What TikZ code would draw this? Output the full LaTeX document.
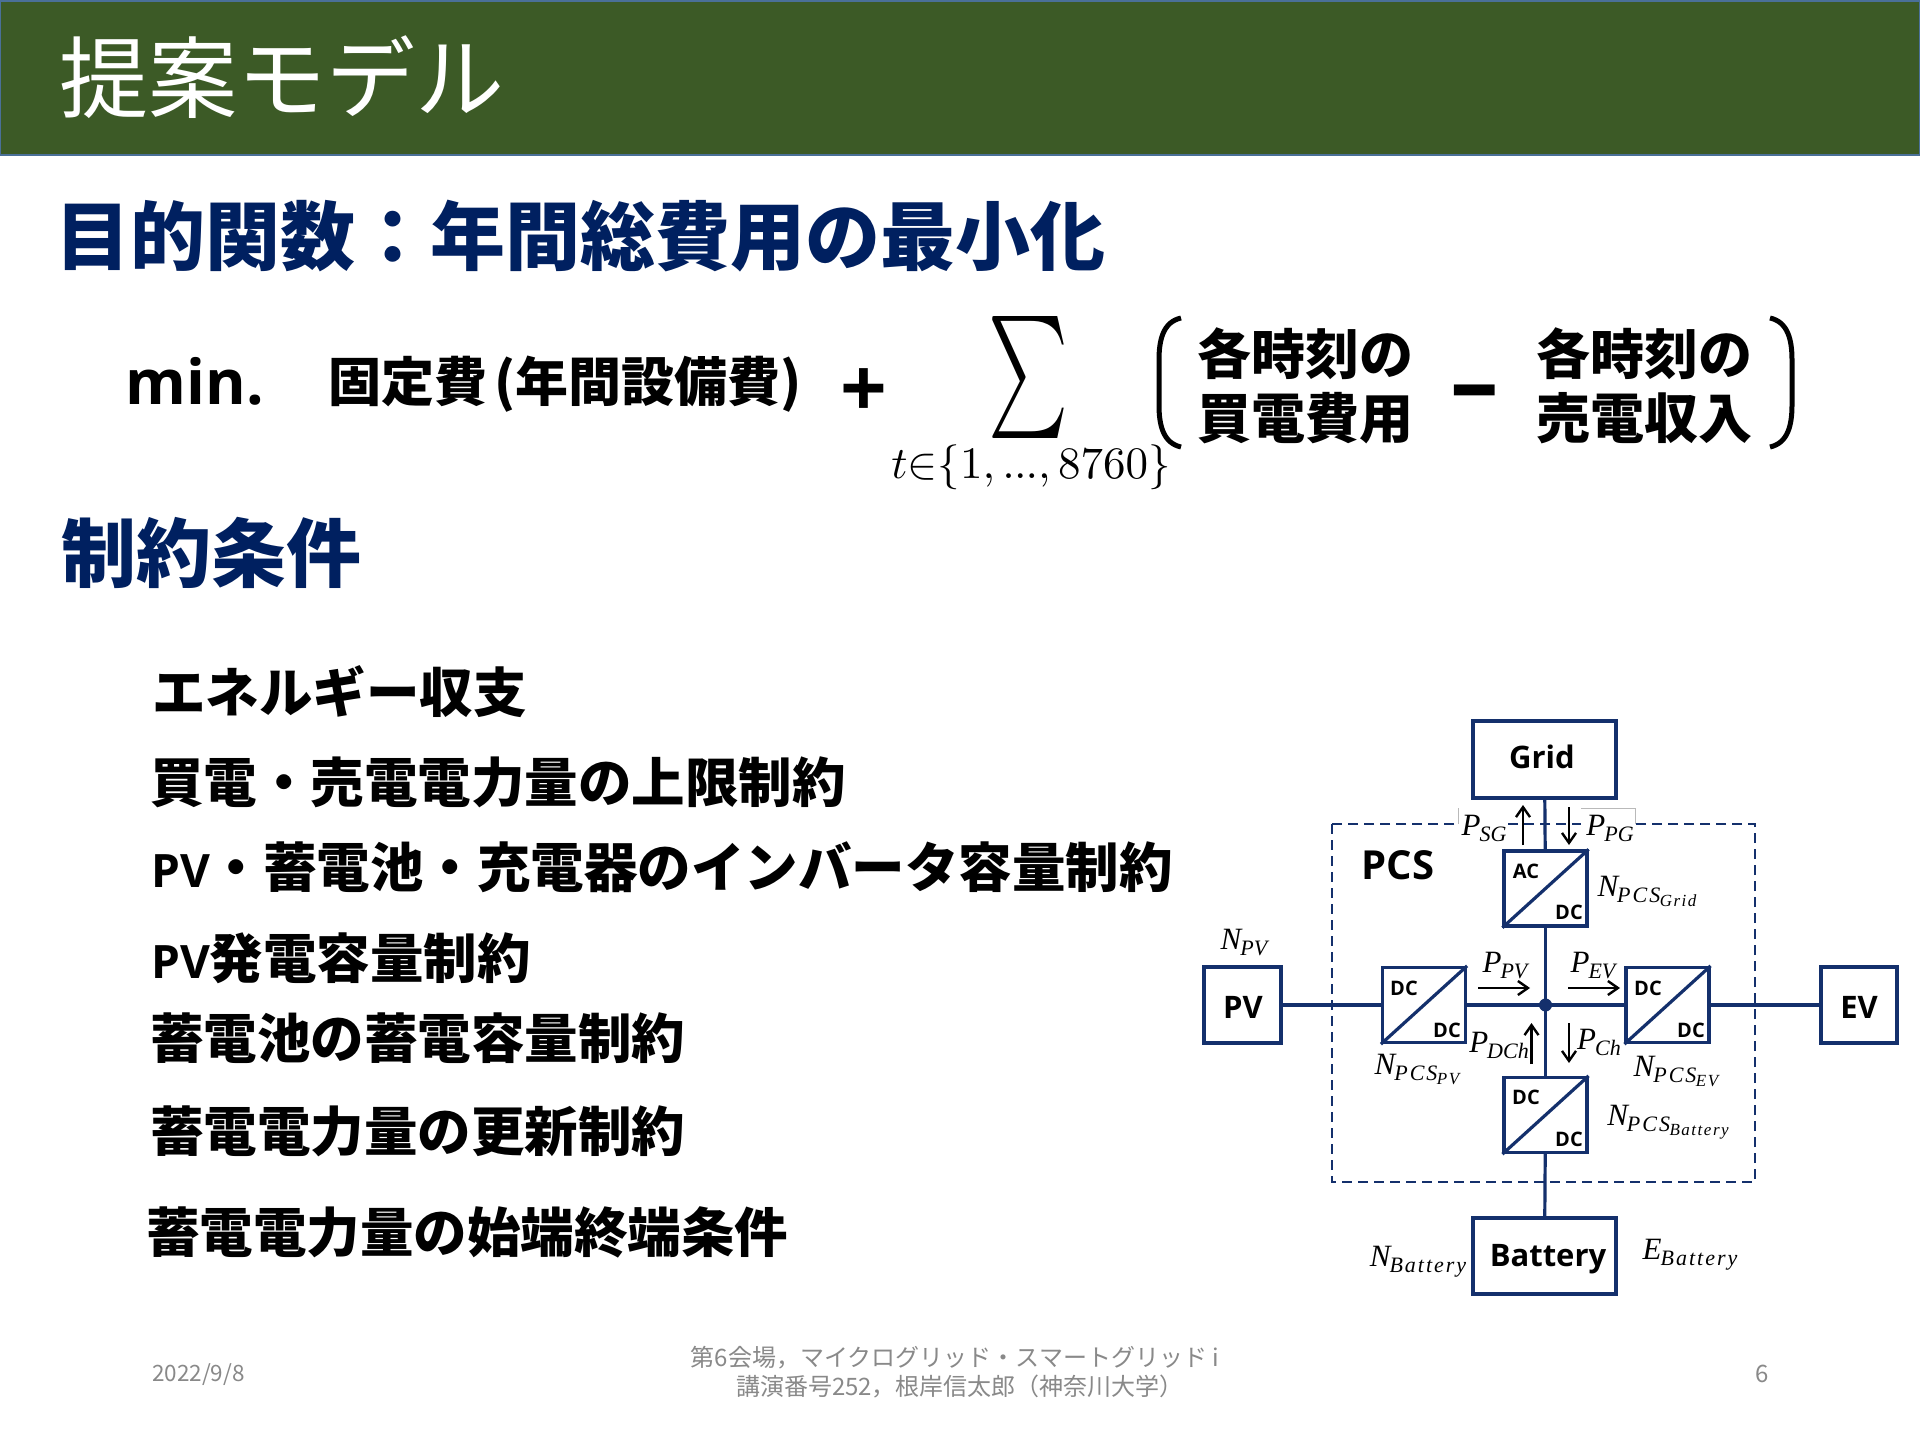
\documentclass[tikz,border=0pt]{standalone}
\usepackage{fontspec}
\usetikzlibrary{arrows.meta}
\newfontfamily\jpfam{Noto Sans CJK JP}
\newfontfamily\lat{Open Sans}
\newfontfamily\mathlike{Liberation Serif}
\newcommand{\fsz}[1]{\fontsize{#1}{#1}\selectfont}
\newcommand{\ws}[1]{{\addfontfeature{LetterSpace=9}#1}}
\newcommand{\ms}[2]{{\mathlike\itshape{\fsz{31}#1}\kern-1pt\raisebox{-6pt}{\fsz{22}#2}}}
\newcommand{\mss}[3]{{\mathlike\itshape{\fsz{31}#1}\kern-1pt\raisebox{-6pt}{\fsz{22}\ws{#2}\kern-.5pt\raisebox{-4pt}{\fsz{17}\ws{#3}}}}}
\definecolor{navy}{HTML}{002060}
\definecolor{band}{HTML}{3C5A26}
\definecolor{bandedge}{HTML}{4A7098}
\definecolor{ln}{HTML}{14306C}
\definecolor{foot}{HTML}{898989}
\tikzset{
 head/.style={anchor=west,inner sep=0,text=navy,font=\jpfam\bfseries\fsz{75}},
 item/.style={anchor=west,inner sep=0,text=black,font=\jpfam\bfseries\fsz{53.5}},
 term/.style={anchor=center,inner sep=0,text=black,align=left,font=\jpfam\bfseries\fsz{54}},
 pbox/.style={draw=ln,line width=3.2pt,inner sep=0},
 ptxt/.style={inner sep=0,font=\lat\bfseries\fsz{31}},
 conv/.style={draw=ln,line width=3.2pt,inner sep=0,minimum width=83pt,minimum height=75pt},
 wire/.style={draw=ln,line width=3.2pt},
 flow/.style={draw=black,line width=2.7pt,-{Straight Barb[length=10pt,width=14pt,line width=2.4pt]}},
 dclab/.style={inner sep=0,font=\lat\bfseries\fsz{20}},
 mlab/.style={inner sep=0},
 foottxt/.style={inner sep=0,text=foot,font=\jpfam\fsz{24}},
}
\begin{document}
\begin{tikzpicture}[x=1pt,y=-1pt]
\useasboundingbox (0,0) rectangle (1920,1440);
\fill[white] (0,0) rectangle (1920,1440);
% title band
\path[fill=band,draw=bandedge,line width=2.4pt] (0,1) rectangle (1920,155);
\node[anchor=west,inner sep=0,text=white,font=\jpfam\fsz{89}] (title) at (59,77) {提案モデル};
% objective
\node[head] (h1) at (55,236) {目的関数：年間総費用の最小化};
\node[anchor=center,inner sep=0,font=\lat\bfseries\fsz{62}] (minw) at (195,381) {min.};
\node[anchor=west,inner sep=0,font=\jpfam\bfseries\fsz{53}] (fixed) at (328,384) {固定費\kern-5pt\ (年間設備費)};
\node[anchor=center,inner sep=0,font=\lat\bfseries\fsz{82}] (plus) at (864,393) {+};
\node[anchor=center,inner sep=0] (sigma) at (1028,377) {\resizebox*{80pt}{122pt}{$\sum$}};
\node[anchor=center,inner sep=0] (sub) at (1031,467) {\scalebox{4.5}{$t{\in}\{1,{.}\kern-.2pt{.}\kern-.2pt{.},8760\}$}};
\draw[line width=5pt,black] (1181,318) .. controls (1163,322) and (1159,340) .. (1159,360) -- (1159,405) .. controls (1159,425) and (1163,443) .. (1181,447);
\draw[line width=5pt,black] (1770,318) .. controls (1788,322) and (1792,340) .. (1792,360) -- (1792,405) .. controls (1792,425) and (1788,443) .. (1770,447);
\node[term] (buy) at (1305,386) {各時刻の\\[10pt]買電費用};
\node[anchor=center,inner sep=0,font=\lat\bfseries\fsz{97}] (minus) at (1475,401) {–};
\node[term] (sell) at (1644,386) {各時刻の\\[10pt]売電収入};
% constraints
\node[head] (h2) at (61,553) {制約条件};
\node[item] (c1) at (152,692) {エネルギー収支};
\node[item] (c2) at (150,782) {買電・売電電力量の上限制約};
\node[item] (c3) at (151,867) {{\lat\bfseries\fsz{46}PV}・蓄電池・充電器のインバータ容量制約};
\node[item] (c4) at (151,958) {{\lat\bfseries\fsz{46}PV}発電容量制約};
\node[item] (c5) at (150,1038) {蓄電池の蓄電容量制約};
\node[item] (c6) at (150,1131) {蓄電電力量の更新制約};
\node[item] (c7) at (146,1232) {蓄電電力量の始端終端条件};
% footer
\node[foottxt,anchor=west,font=\jpfam\fsz{22.5}] (date) at (152,1375) {2022/9/8};
\node[foottxt,align=center] (conf) at (955,1372) {第6会場，マイクログリッド・スマートグリッド i\\[5pt]\kern10pt 講演番号252，根岸信太郎（神奈川大学）};
\node[foottxt] (pg) at (1762,1374) {6};
% diagram
\draw[ln,line width=2.8pt,dash pattern=on 10pt off 6pt] (1332,824) rectangle (1755,1182);
\fill[white] (1458,808) rectangle (1503,848);
\fill[white] (1581,808) rectangle (1635,848);
\draw[gray!55,line width=.8pt] (1458,824) -- (1458,808);
\draw[gray!55,line width=.8pt] (1581,808) -- (1635,808) -- (1635,824);
\node[pbox,minimum width=143pt,minimum height=77pt] (grid) at (1544.5,759.5) {};
\node[pbox,minimum width=77pt,minimum height=76pt] (pv) at (1242.5,1005) {};
\node[pbox,minimum width=76pt,minimum height=76pt] (ev) at (1859,1005) {};
\node[pbox,minimum width=143pt,minimum height=76pt] (bat) at (1544.5,1256) {};
\node[ptxt] (gridt) at (1542,757) {Grid};
\node[ptxt] (pvt) at (1243,1007) {PV};
\node[ptxt] (evt) at (1859,1007) {EV};
\node[ptxt] (batt) at (1548,1259) {Battery};
\node[conv] (ac) at (1545.5,888.5) {};
\node[conv] (cpv) at (1424,1005) {};
\node[conv] (cev) at (1667.5,1005) {};
\node[conv] (cbat) at (1545.5,1115) {};
\foreach \n in {ac,cpv,cev,cbat}{\draw[wire] (\n.south west) -- (\n.north east);}
\fill[ln] (1545.5,1005) circle (6.5pt);
\coordinate (jn) at (1545.5,1005);
\draw[wire] (grid) -- (ac);
\draw[wire] (ac) -- (jn);
\draw[wire] (cbat) -- (jn);
\draw[wire] (cbat) -- (bat);
\draw[wire] (pv) -- (cpv);
\draw[wire] (cpv) -- (jn);
\draw[wire] (jn) -- (cev);
\draw[wire] (cev) -- (ev);
% converter labels
\node[dclab] (a1) at (1526,871) {AC};
\node[dclab] (a2) at (1569,912) {DC};
\node[dclab] (b1) at (1404,988) {DC};
\node[dclab] (b2) at (1447,1030) {DC};
\node[dclab] (d1) at (1648,988) {DC};
\node[dclab] (d2) at (1691,1030) {DC};
\node[dclab] (e1) at (1526,1097) {DC};
\node[dclab] (e2) at (1569,1139) {DC};
\node[inner sep=0,font=\lat\bfseries\fsz{40}] (pcs) at (1398,865) {PCS};
% flows
\coordinate (f1a) at (1523,845); \coordinate (f1b) at (1523,805);
\coordinate (f2a) at (1569,807); \coordinate (f2b) at (1569,845);
\coordinate (f3a) at (1478,988); \coordinate (f3b) at (1530,988);
\coordinate (f4a) at (1568,988); \coordinate (f4b) at (1620,988);
\coordinate (f5a) at (1531.5,1064); \coordinate (f5b) at (1531.5,1023);
\coordinate (f6a) at (1569,1023); \coordinate (f6b) at (1569,1063);
\draw[flow] (f1a) -- (f1b);
\draw[flow] (f2a) -- (f2b);
\draw[flow] (f3a) -- (f3b);
\draw[flow] (f4a) -- (f4b);
\draw[flow] (f5a) -- (f5b);
\draw[flow] (f6a) -- (f6b);
% math labels
\node[mlab] (l1) at (1244,943) {\ms{N}{PV}};
\node[mlab] (l2) at (1484,828) {\ms{P}{SG}};
\node[mlab] (l3) at (1610,828) {\ms{P}{PG}};
\node[mlab] (l4) at (1647,891) {\mss{N}{PCS}{Grid}};
\node[mlab] (l5) at (1505,966) {\ms{P}{PV}};
\node[mlab] (l6) at (1593,966) {\ms{P}{EV}};
\node[mlab] (l7) at (1499,1045) {\ms{P}{DCh}};
\node[mlab] (l8) at (1599,1042) {\ms{P}{Ch}};
\node[mlab] (l9) at (1417,1069) {\mss{N}{PCS}{PV}};
\node[mlab] (l10) at (1676,1071) {\mss{N}{PCS}{EV}};
\node[mlab] (l11) at (1668,1122) {\mss{N}{PCS}{Battery}};
\node[mlab] (l12) at (1418,1262) {\ms{N}{\ws{Battery}}};
\node[mlab] (l13) at (1690,1255) {\ms{E}{\ws{Battery}}};
\end{tikzpicture}
\end{document}
